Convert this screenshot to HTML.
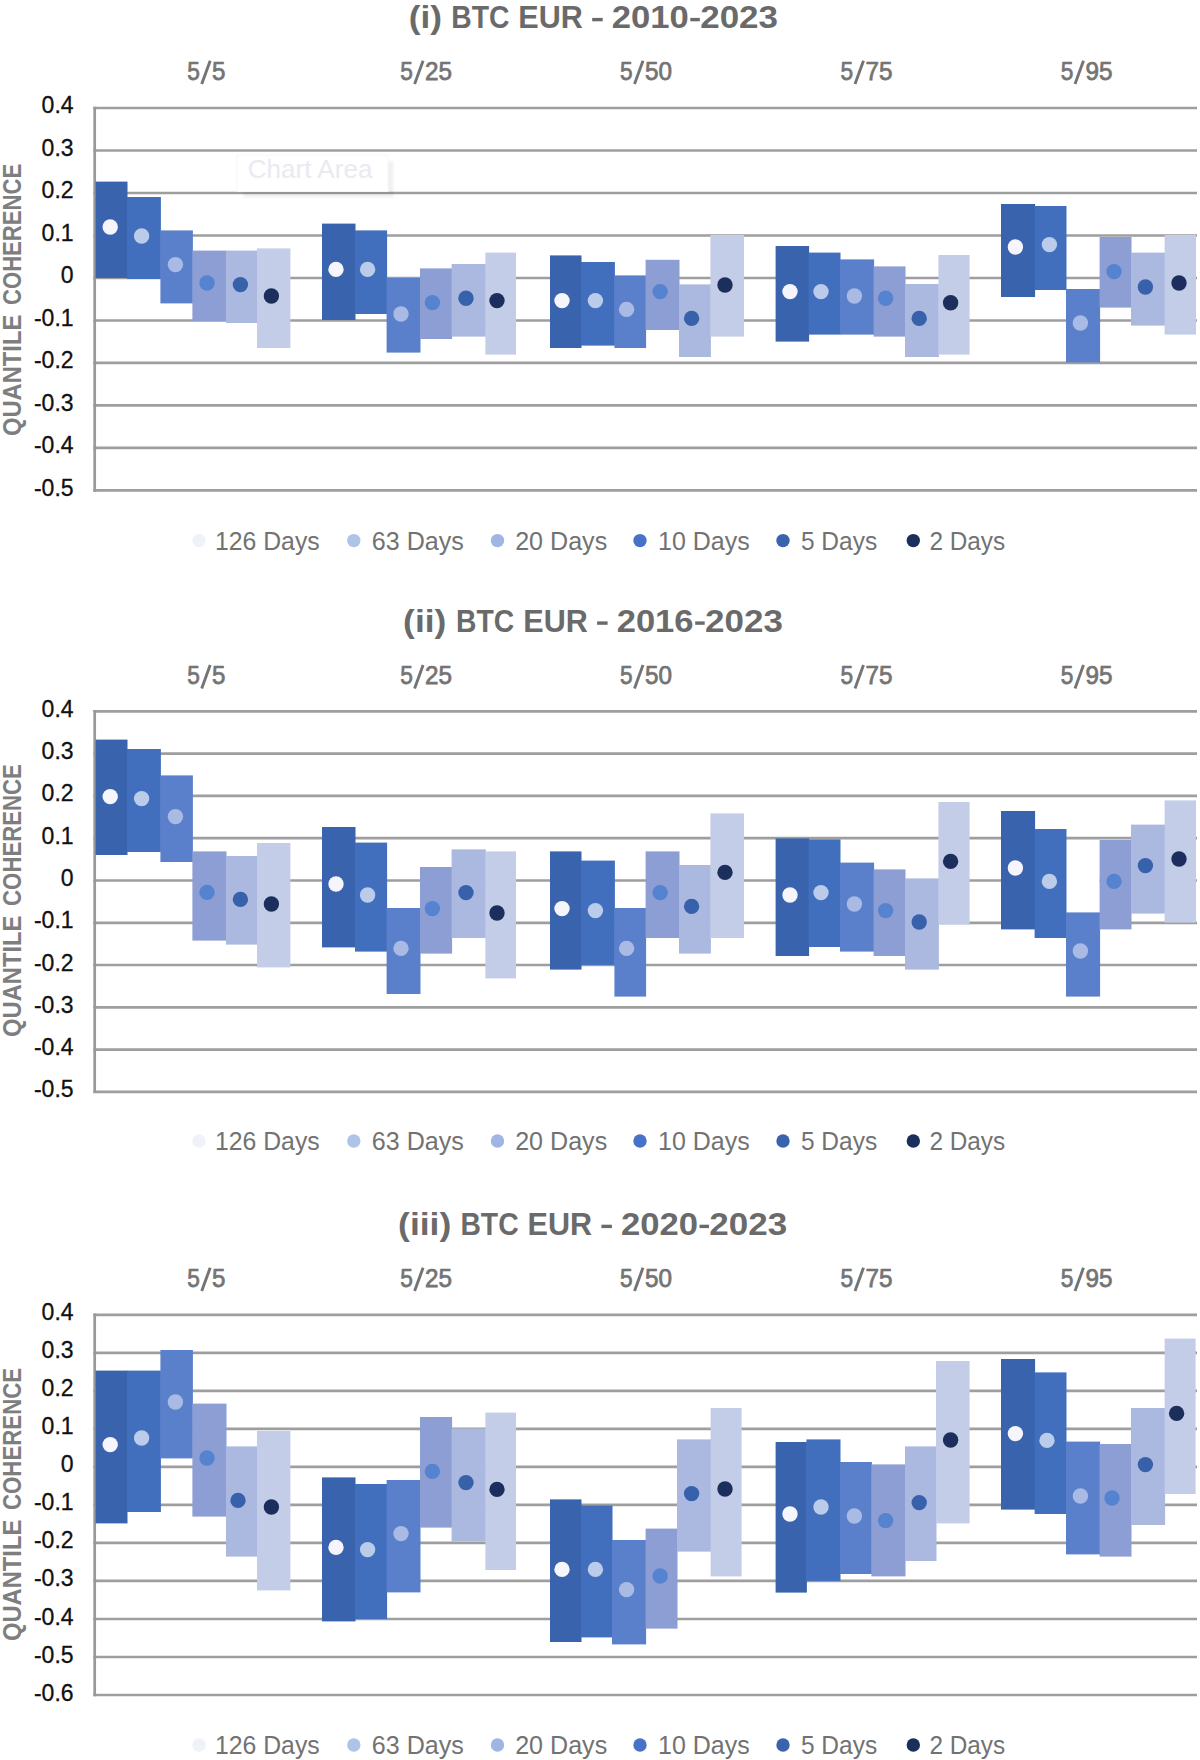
<!DOCTYPE html><html><head><meta charset="utf-8"><title>chart</title><style>html,body{margin:0;padding:0;background:#fff}svg{display:block}text{font-family:"Liberation Sans",sans-serif}</style></head><body>
<svg width="1200" height="1760" viewBox="0 0 1200 1760">
<defs><filter id="b1" x="-10%" y="-20%" width="120%" height="140%"><feGaussianBlur stdDeviation="1"/></filter></defs>
<rect width="1200" height="1760" fill="#fff"/>
<g>
<g>
<line x1="93.4" y1="108.0" x2="1197" y2="108.0" stroke="#9E9E9E" stroke-width="2.7"/>
<line x1="93.4" y1="150.5" x2="1197" y2="150.5" stroke="#9E9E9E" stroke-width="2.7"/>
<line x1="93.4" y1="193.0" x2="1197" y2="193.0" stroke="#9E9E9E" stroke-width="2.7"/>
<line x1="93.4" y1="235.5" x2="1197" y2="235.5" stroke="#9E9E9E" stroke-width="2.7"/>
<line x1="93.4" y1="278.0" x2="1197" y2="278.0" stroke="#9E9E9E" stroke-width="2.7"/>
<line x1="93.4" y1="320.5" x2="1197" y2="320.5" stroke="#9E9E9E" stroke-width="2.7"/>
<line x1="93.4" y1="362.9" x2="1197" y2="362.9" stroke="#9E9E9E" stroke-width="2.7"/>
<line x1="93.4" y1="405.4" x2="1197" y2="405.4" stroke="#9E9E9E" stroke-width="2.7"/>
<line x1="93.4" y1="447.9" x2="1197" y2="447.9" stroke="#9E9E9E" stroke-width="2.7"/>
<line x1="93.4" y1="490.4" x2="1197" y2="490.4" stroke="#9E9E9E" stroke-width="2.7"/>
<line x1="94.7" y1="106.7" x2="94.7" y2="491.7" stroke="#999" stroke-width="2.7"/>
<g><rect x="243" y="161" width="150.5" height="36.5" fill="#000" opacity="0.05" filter="url(#b1)"/><rect x="237" y="155" width="151" height="36.5" fill="#fff" stroke="#f7f7f7" stroke-width="1"/><text x="247.69" y="178" font-size="25.8" fill="#EAEAF1" textLength="124.81" lengthAdjust="spacingAndGlyphs">Chart Area</text></g>

<rect x="95.6" y="181.6" width="31.9" height="96.4" fill="#3A63AE"/>
<rect x="127.0" y="197.0" width="33.9" height="82.0" fill="#416EBD"/>
<rect x="160.4" y="230.4" width="32.5" height="73.0" fill="#5B80CB"/>
<rect x="192.4" y="250.6" width="34.1" height="70.4" fill="#8C9ED3"/>
<rect x="226.0" y="250.6" width="31.5" height="72.4" fill="#ABB8DF"/>
<rect x="257.0" y="248.4" width="33.4" height="99.6" fill="#C4CDE8"/>
<rect x="322.0" y="223.6" width="33.5" height="96.4" fill="#3A63AE"/>
<rect x="355.0" y="230.4" width="32.1" height="83.6" fill="#416EBD"/>
<rect x="386.6" y="278.0" width="33.9" height="74.6" fill="#5B80CB"/>
<rect x="420.0" y="268.4" width="32.1" height="70.6" fill="#8C9ED3"/>
<rect x="451.6" y="264.0" width="34.3" height="72.6" fill="#ABB8DF"/>
<rect x="485.4" y="252.6" width="30.6" height="102.0" fill="#C4CDE8"/>
<rect x="550.0" y="255.4" width="31.5" height="92.6" fill="#3A63AE"/>
<rect x="581.0" y="262.0" width="33.9" height="83.6" fill="#416EBD"/>
<rect x="614.4" y="275.4" width="31.7" height="72.6" fill="#5B80CB"/>
<rect x="645.6" y="259.8" width="33.9" height="70.2" fill="#8C9ED3"/>
<rect x="679.0" y="284.4" width="31.9" height="72.6" fill="#ABB8DF"/>
<rect x="710.4" y="235.0" width="33.6" height="101.6" fill="#C4CDE8"/>
<rect x="775.6" y="246.0" width="33.5" height="95.6" fill="#3A63AE"/>
<rect x="808.6" y="252.6" width="31.9" height="82.0" fill="#416EBD"/>
<rect x="840.0" y="259.4" width="34.1" height="75.2" fill="#5B80CB"/>
<rect x="873.6" y="266.4" width="31.9" height="70.2" fill="#8C9ED3"/>
<rect x="905.0" y="284.0" width="33.9" height="73.0" fill="#ABB8DF"/>
<rect x="938.4" y="255.0" width="31.2" height="99.6" fill="#C4CDE8"/>
<rect x="1001.0" y="204.0" width="34.1" height="93.0" fill="#3A63AE"/>
<rect x="1034.6" y="206.0" width="31.9" height="84.0" fill="#416EBD"/>
<rect x="1066.0" y="289.0" width="34.1" height="73.4" fill="#5B80CB"/>
<rect x="1099.6" y="237.0" width="31.9" height="70.6" fill="#8C9ED3"/>
<rect x="1131.0" y="252.6" width="34.1" height="73.0" fill="#ABB8DF"/>
<rect x="1164.6" y="235.0" width="31.4" height="99.6" fill="#C4CDE8"/>
<circle cx="110.2" cy="227.0" r="7.7" fill="#F5F5FB"/>
<circle cx="141.6" cy="236.0" r="7.7" fill="#BBCBEA"/>
<circle cx="175.4" cy="264.6" r="7.7" fill="#A9BBE5"/>
<circle cx="207.0" cy="283.0" r="7.7" fill="#5583D0"/>
<circle cx="240.4" cy="284.6" r="7.7" fill="#3861AB"/>
<circle cx="271.4" cy="296.0" r="7.7" fill="#1B2E5C"/>
<circle cx="336.0" cy="269.4" r="7.7" fill="#F5F5FB"/>
<circle cx="367.6" cy="269.4" r="7.7" fill="#BBCBEA"/>
<circle cx="401.0" cy="314.0" r="7.7" fill="#A9BBE5"/>
<circle cx="432.4" cy="302.6" r="7.7" fill="#5583D0"/>
<circle cx="466.0" cy="298.2" r="7.7" fill="#3861AB"/>
<circle cx="497.0" cy="300.6" r="7.7" fill="#1B2E5C"/>
<circle cx="562.0" cy="300.6" r="7.7" fill="#F5F5FB"/>
<circle cx="595.4" cy="300.6" r="7.7" fill="#BBCBEA"/>
<circle cx="626.6" cy="309.4" r="7.7" fill="#A9BBE5"/>
<circle cx="660.2" cy="291.6" r="7.7" fill="#5583D0"/>
<circle cx="691.6" cy="318.4" r="7.7" fill="#3861AB"/>
<circle cx="725.0" cy="285.0" r="7.7" fill="#1B2E5C"/>
<circle cx="790.0" cy="291.6" r="7.7" fill="#F5F5FB"/>
<circle cx="821.0" cy="291.6" r="7.7" fill="#BBCBEA"/>
<circle cx="854.4" cy="296.0" r="7.7" fill="#A9BBE5"/>
<circle cx="885.6" cy="298.2" r="7.7" fill="#5583D0"/>
<circle cx="919.2" cy="318.4" r="7.7" fill="#3861AB"/>
<circle cx="950.6" cy="302.8" r="7.7" fill="#1B2E5C"/>
<circle cx="1015.4" cy="247.0" r="7.7" fill="#F5F5FB"/>
<circle cx="1049.4" cy="244.6" r="7.7" fill="#BBCBEA"/>
<circle cx="1080.4" cy="323.0" r="7.7" fill="#A9BBE5"/>
<circle cx="1114.0" cy="271.6" r="7.7" fill="#5583D0"/>
<circle cx="1145.4" cy="287.0" r="7.7" fill="#3861AB"/>
<circle cx="1179.0" cy="283.0" r="7.7" fill="#1B2E5C"/>
<text x="408.74" y="28.0" font-size="31.6" font-weight="bold" fill="#6A6A6A" textLength="33.26" lengthAdjust="spacingAndGlyphs">(i)</text>
<text x="451.21" y="28.0" font-size="31.6" font-weight="bold" fill="#6A6A6A" textLength="58.17" lengthAdjust="spacingAndGlyphs">BTC</text>
<text x="518.36" y="28.0" font-size="31.6" font-weight="bold" fill="#6A6A6A" textLength="64.52" lengthAdjust="spacingAndGlyphs">EUR</text>
<rect x="592.2" y="17.9" width="10.5" height="3.4" fill="#6A6A6A"/>
<text x="611.80" y="28.0" font-size="31.6" font-weight="bold" fill="#6A6A6A" textLength="77.02" lengthAdjust="spacingAndGlyphs">2010</text>
<rect x="690.3" y="17.9" width="9.5" height="3.4" fill="#6A6A6A"/>
<text x="700.19" y="28.0" font-size="31.6" font-weight="bold" fill="#6A6A6A" textLength="77.78" lengthAdjust="spacingAndGlyphs">2023</text>
<text x="187.3" y="79.7" font-size="25" fill="#747474" stroke="#747474" stroke-width="0.75" lengthAdjust="spacingAndGlyphs" textLength="12.6">5</text>
<line x1="201.7" y1="84.0" x2="210.2" y2="60.7" stroke="#747474" stroke-width="2.9"/>
<text x="212.1" y="79.7" font-size="25" fill="#747474" stroke="#747474" stroke-width="0.75" lengthAdjust="spacingAndGlyphs" textLength="13.4">5</text>
<text x="400.2" y="79.7" font-size="25" fill="#747474" stroke="#747474" stroke-width="0.75" lengthAdjust="spacingAndGlyphs" textLength="12.6">5</text>
<line x1="414.6" y1="84.0" x2="423.1" y2="60.7" stroke="#747474" stroke-width="2.9"/>
<text x="425.0" y="79.7" font-size="25" fill="#747474" stroke="#747474" stroke-width="0.75" lengthAdjust="spacingAndGlyphs" textLength="27.0">25</text>
<text x="620.1" y="79.7" font-size="25" fill="#747474" stroke="#747474" stroke-width="0.75" lengthAdjust="spacingAndGlyphs" textLength="12.6">5</text>
<line x1="634.5" y1="84.0" x2="643.0" y2="60.7" stroke="#747474" stroke-width="2.9"/>
<text x="644.9" y="79.7" font-size="25" fill="#747474" stroke="#747474" stroke-width="0.75" lengthAdjust="spacingAndGlyphs" textLength="27.0">50</text>
<text x="840.6" y="79.7" font-size="25" fill="#747474" stroke="#747474" stroke-width="0.75" lengthAdjust="spacingAndGlyphs" textLength="12.6">5</text>
<line x1="855.0" y1="84.0" x2="863.5" y2="60.7" stroke="#747474" stroke-width="2.9"/>
<text x="865.4" y="79.7" font-size="25" fill="#747474" stroke="#747474" stroke-width="0.75" lengthAdjust="spacingAndGlyphs" textLength="27.0">75</text>
<text x="1060.7" y="79.7" font-size="25" fill="#747474" stroke="#747474" stroke-width="0.75" lengthAdjust="spacingAndGlyphs" textLength="12.6">5</text>
<line x1="1075.0" y1="84.0" x2="1083.5" y2="60.7" stroke="#747474" stroke-width="2.9"/>
<text x="1085.5" y="79.7" font-size="25" fill="#747474" stroke="#747474" stroke-width="0.75" lengthAdjust="spacingAndGlyphs" textLength="27.0">95</text>
<text x="73.6" y="113.4" font-size="23" fill="#111" stroke="#111" stroke-width="0.3" text-anchor="end">0.4</text>
<text x="73.6" y="155.9" font-size="23" fill="#111" stroke="#111" stroke-width="0.3" text-anchor="end">0.3</text>
<text x="73.6" y="198.4" font-size="23" fill="#111" stroke="#111" stroke-width="0.3" text-anchor="end">0.2</text>
<text x="73.6" y="240.9" font-size="23" fill="#111" stroke="#111" stroke-width="0.3" text-anchor="end">0.1</text>
<text x="73.6" y="283.4" font-size="23" fill="#111" stroke="#111" stroke-width="0.3" text-anchor="end">0</text>
<text x="73.6" y="325.9" font-size="23" fill="#111" stroke="#111" stroke-width="0.3" text-anchor="end">-0.1</text>
<text x="73.6" y="368.3" font-size="23" fill="#111" stroke="#111" stroke-width="0.3" text-anchor="end">-0.2</text>
<text x="73.6" y="410.8" font-size="23" fill="#111" stroke="#111" stroke-width="0.3" text-anchor="end">-0.3</text>
<text x="73.6" y="453.3" font-size="23" fill="#111" stroke="#111" stroke-width="0.3" text-anchor="end">-0.4</text>
<text x="73.6" y="495.8" font-size="23" fill="#111" stroke="#111" stroke-width="0.3" text-anchor="end">-0.5</text>
<text transform="translate(21.4,435.1) rotate(-90)" x="-0.97" y="0" font-size="26.5" font-weight="bold" fill="#7E7E7E" textLength="121.30" lengthAdjust="spacingAndGlyphs">QUANTILE</text>
<text transform="translate(21.4,304.1) rotate(-90)" x="-0.91" y="0" font-size="26.5" font-weight="bold" fill="#7E7E7E" textLength="141.27" lengthAdjust="spacingAndGlyphs">COHERENCE</text>
<circle cx="199" cy="540.6" r="6.7" fill="#F0F2F9"/>
<text x="215.01" y="549.9" font-size="26" fill="#727272" textLength="104.68" lengthAdjust="spacingAndGlyphs">126 Days</text>
<circle cx="353.8" cy="540.6" r="6.7" fill="#AEC3E8"/>
<text x="371.83" y="549.9" font-size="26" fill="#727272" textLength="92.08" lengthAdjust="spacingAndGlyphs">63 Days</text>
<circle cx="497.5" cy="540.6" r="6.7" fill="#9FB5E4"/>
<text x="515.14" y="549.9" font-size="26" fill="#727272" textLength="92.07" lengthAdjust="spacingAndGlyphs">20 Days</text>
<circle cx="640" cy="540.6" r="6.7" fill="#4673C7"/>
<text x="658.00" y="549.9" font-size="26" fill="#727272" textLength="91.71" lengthAdjust="spacingAndGlyphs">10 Days</text>
<circle cx="783" cy="540.6" r="6.7" fill="#3A63AE"/>
<text x="800.92" y="549.9" font-size="26" fill="#727272" textLength="76.27" lengthAdjust="spacingAndGlyphs">5 Days</text>
<circle cx="913.3" cy="540.6" r="6.7" fill="#1B2E5C"/>
<text x="929.38" y="549.9" font-size="26" fill="#727272" textLength="75.81" lengthAdjust="spacingAndGlyphs">2 Days</text>
</g>
<g>
<line x1="93.4" y1="711.4" x2="1197" y2="711.4" stroke="#9E9E9E" stroke-width="2.7"/>
<line x1="93.4" y1="753.7" x2="1197" y2="753.7" stroke="#9E9E9E" stroke-width="2.7"/>
<line x1="93.4" y1="795.9" x2="1197" y2="795.9" stroke="#9E9E9E" stroke-width="2.7"/>
<line x1="93.4" y1="838.2" x2="1197" y2="838.2" stroke="#9E9E9E" stroke-width="2.7"/>
<line x1="93.4" y1="880.5" x2="1197" y2="880.5" stroke="#9E9E9E" stroke-width="2.7"/>
<line x1="93.4" y1="922.8" x2="1197" y2="922.8" stroke="#9E9E9E" stroke-width="2.7"/>
<line x1="93.4" y1="965.0" x2="1197" y2="965.0" stroke="#9E9E9E" stroke-width="2.7"/>
<line x1="93.4" y1="1007.3" x2="1197" y2="1007.3" stroke="#9E9E9E" stroke-width="2.7"/>
<line x1="93.4" y1="1049.6" x2="1197" y2="1049.6" stroke="#9E9E9E" stroke-width="2.7"/>
<line x1="93.4" y1="1091.8" x2="1197" y2="1091.8" stroke="#9E9E9E" stroke-width="2.7"/>
<line x1="94.7" y1="710.1" x2="94.7" y2="1093.1" stroke="#999" stroke-width="2.7"/>
<rect x="1066" y="842" width="33.6" height="71" fill="#fff"/>
<rect x="95.6" y="739.6" width="31.9" height="115.4" fill="#3A63AE"/>
<rect x="127.0" y="749.0" width="33.9" height="103.0" fill="#416EBD"/>
<rect x="160.4" y="775.4" width="32.5" height="86.6" fill="#5B80CB"/>
<rect x="192.4" y="851.4" width="34.1" height="89.2" fill="#8C9ED3"/>
<rect x="226.0" y="856.0" width="31.5" height="88.6" fill="#ABB8DF"/>
<rect x="257.0" y="843.0" width="33.4" height="124.4" fill="#C4CDE8"/>
<rect x="322.0" y="827.0" width="33.5" height="120.4" fill="#3A63AE"/>
<rect x="355.0" y="842.6" width="32.1" height="109.0" fill="#416EBD"/>
<rect x="386.6" y="908.0" width="33.9" height="86.0" fill="#5B80CB"/>
<rect x="420.0" y="867.0" width="32.1" height="86.6" fill="#8C9ED3"/>
<rect x="451.6" y="849.4" width="34.3" height="88.6" fill="#ABB8DF"/>
<rect x="485.4" y="851.4" width="30.6" height="127.0" fill="#C4CDE8"/>
<rect x="550.0" y="851.4" width="31.5" height="118.2" fill="#3A63AE"/>
<rect x="581.0" y="860.6" width="33.9" height="104.4" fill="#416EBD"/>
<rect x="614.4" y="908.0" width="31.7" height="88.6" fill="#5B80CB"/>
<rect x="645.6" y="851.4" width="33.9" height="86.6" fill="#8C9ED3"/>
<rect x="679.0" y="865.0" width="31.9" height="88.6" fill="#ABB8DF"/>
<rect x="710.4" y="813.4" width="33.6" height="124.6" fill="#C4CDE8"/>
<rect x="775.6" y="838.4" width="33.5" height="117.6" fill="#3A63AE"/>
<rect x="808.6" y="839.4" width="31.9" height="107.6" fill="#416EBD"/>
<rect x="840.0" y="862.6" width="34.1" height="89.0" fill="#5B80CB"/>
<rect x="873.6" y="869.4" width="31.9" height="86.6" fill="#8C9ED3"/>
<rect x="905.0" y="878.4" width="33.9" height="91.2" fill="#ABB8DF"/>
<rect x="938.4" y="802.0" width="31.2" height="122.6" fill="#C4CDE8"/>
<rect x="1001.0" y="811.0" width="34.1" height="118.4" fill="#3A63AE"/>
<rect x="1034.6" y="829.0" width="31.9" height="109.0" fill="#416EBD"/>
<rect x="1066.0" y="912.4" width="34.1" height="84.2" fill="#5B80CB"/>
<rect x="1099.6" y="840.0" width="31.9" height="89.4" fill="#8C9ED3"/>
<rect x="1131.0" y="824.6" width="34.1" height="89.0" fill="#ABB8DF"/>
<rect x="1164.6" y="800.4" width="31.4" height="122.2" fill="#C4CDE8"/>
<circle cx="110.2" cy="796.6" r="7.7" fill="#F5F5FB"/>
<circle cx="141.6" cy="798.6" r="7.7" fill="#BBCBEA"/>
<circle cx="175.4" cy="816.6" r="7.7" fill="#A9BBE5"/>
<circle cx="207.0" cy="892.4" r="7.7" fill="#5583D0"/>
<circle cx="240.4" cy="899.4" r="7.7" fill="#3861AB"/>
<circle cx="271.4" cy="904.0" r="7.7" fill="#1B2E5C"/>
<circle cx="336.0" cy="884.0" r="7.7" fill="#F5F5FB"/>
<circle cx="367.6" cy="895.0" r="7.7" fill="#BBCBEA"/>
<circle cx="401.0" cy="948.4" r="7.7" fill="#A9BBE5"/>
<circle cx="432.4" cy="908.6" r="7.7" fill="#5583D0"/>
<circle cx="466.0" cy="892.6" r="7.7" fill="#3861AB"/>
<circle cx="497.0" cy="913.0" r="7.7" fill="#1B2E5C"/>
<circle cx="562.0" cy="908.6" r="7.7" fill="#F5F5FB"/>
<circle cx="595.4" cy="910.6" r="7.7" fill="#BBCBEA"/>
<circle cx="626.6" cy="948.4" r="7.7" fill="#A9BBE5"/>
<circle cx="660.2" cy="892.6" r="7.7" fill="#5583D0"/>
<circle cx="691.6" cy="906.4" r="7.7" fill="#3861AB"/>
<circle cx="725.0" cy="872.4" r="7.7" fill="#1B2E5C"/>
<circle cx="790.0" cy="895.0" r="7.7" fill="#F5F5FB"/>
<circle cx="821.0" cy="892.6" r="7.7" fill="#BBCBEA"/>
<circle cx="854.4" cy="904.0" r="7.7" fill="#A9BBE5"/>
<circle cx="885.6" cy="910.6" r="7.7" fill="#5583D0"/>
<circle cx="919.2" cy="922.0" r="7.7" fill="#3861AB"/>
<circle cx="950.6" cy="861.4" r="7.7" fill="#1B2E5C"/>
<circle cx="1015.4" cy="868.0" r="7.7" fill="#F5F5FB"/>
<circle cx="1049.4" cy="881.4" r="7.7" fill="#BBCBEA"/>
<circle cx="1080.4" cy="951.0" r="7.7" fill="#A9BBE5"/>
<circle cx="1114.0" cy="881.4" r="7.7" fill="#5583D0"/>
<circle cx="1145.4" cy="865.6" r="7.7" fill="#3861AB"/>
<circle cx="1179.0" cy="859.0" r="7.7" fill="#1B2E5C"/>
<text x="403.14" y="631.5" font-size="31.6" font-weight="bold" fill="#6A6A6A" textLength="43.22" lengthAdjust="spacingAndGlyphs">(ii)</text>
<text x="456.11" y="631.5" font-size="31.6" font-weight="bold" fill="#6A6A6A" textLength="58.17" lengthAdjust="spacingAndGlyphs">BTC</text>
<text x="523.26" y="631.5" font-size="31.6" font-weight="bold" fill="#6A6A6A" textLength="64.52" lengthAdjust="spacingAndGlyphs">EUR</text>
<rect x="597.1" y="621.4" width="10.5" height="3.4" fill="#6A6A6A"/>
<text x="616.70" y="631.5" font-size="31.6" font-weight="bold" fill="#6A6A6A" textLength="76.85" lengthAdjust="spacingAndGlyphs">2016</text>
<rect x="695.2" y="621.4" width="9.5" height="3.4" fill="#6A6A6A"/>
<text x="705.09" y="631.5" font-size="31.6" font-weight="bold" fill="#6A6A6A" textLength="77.78" lengthAdjust="spacingAndGlyphs">2023</text>
<text x="187.3" y="684.1" font-size="25" fill="#747474" stroke="#747474" stroke-width="0.75" lengthAdjust="spacingAndGlyphs" textLength="12.6">5</text>
<line x1="201.7" y1="688.4" x2="210.2" y2="665.1" stroke="#747474" stroke-width="2.9"/>
<text x="212.1" y="684.1" font-size="25" fill="#747474" stroke="#747474" stroke-width="0.75" lengthAdjust="spacingAndGlyphs" textLength="13.4">5</text>
<text x="400.2" y="684.1" font-size="25" fill="#747474" stroke="#747474" stroke-width="0.75" lengthAdjust="spacingAndGlyphs" textLength="12.6">5</text>
<line x1="414.6" y1="688.4" x2="423.1" y2="665.1" stroke="#747474" stroke-width="2.9"/>
<text x="425.0" y="684.1" font-size="25" fill="#747474" stroke="#747474" stroke-width="0.75" lengthAdjust="spacingAndGlyphs" textLength="27.0">25</text>
<text x="620.1" y="684.1" font-size="25" fill="#747474" stroke="#747474" stroke-width="0.75" lengthAdjust="spacingAndGlyphs" textLength="12.6">5</text>
<line x1="634.5" y1="688.4" x2="643.0" y2="665.1" stroke="#747474" stroke-width="2.9"/>
<text x="644.9" y="684.1" font-size="25" fill="#747474" stroke="#747474" stroke-width="0.75" lengthAdjust="spacingAndGlyphs" textLength="27.0">50</text>
<text x="840.6" y="684.1" font-size="25" fill="#747474" stroke="#747474" stroke-width="0.75" lengthAdjust="spacingAndGlyphs" textLength="12.6">5</text>
<line x1="855.0" y1="688.4" x2="863.5" y2="665.1" stroke="#747474" stroke-width="2.9"/>
<text x="865.4" y="684.1" font-size="25" fill="#747474" stroke="#747474" stroke-width="0.75" lengthAdjust="spacingAndGlyphs" textLength="27.0">75</text>
<text x="1060.7" y="684.1" font-size="25" fill="#747474" stroke="#747474" stroke-width="0.75" lengthAdjust="spacingAndGlyphs" textLength="12.6">5</text>
<line x1="1075.0" y1="688.4" x2="1083.5" y2="665.1" stroke="#747474" stroke-width="2.9"/>
<text x="1085.5" y="684.1" font-size="25" fill="#747474" stroke="#747474" stroke-width="0.75" lengthAdjust="spacingAndGlyphs" textLength="27.0">95</text>
<text x="73.6" y="716.9" font-size="23" fill="#111" stroke="#111" stroke-width="0.3" text-anchor="end">0.4</text>
<text x="73.6" y="759.2" font-size="23" fill="#111" stroke="#111" stroke-width="0.3" text-anchor="end">0.3</text>
<text x="73.6" y="801.4" font-size="23" fill="#111" stroke="#111" stroke-width="0.3" text-anchor="end">0.2</text>
<text x="73.6" y="843.7" font-size="23" fill="#111" stroke="#111" stroke-width="0.3" text-anchor="end">0.1</text>
<text x="73.6" y="886.0" font-size="23" fill="#111" stroke="#111" stroke-width="0.3" text-anchor="end">0</text>
<text x="73.6" y="928.2" font-size="23" fill="#111" stroke="#111" stroke-width="0.3" text-anchor="end">-0.1</text>
<text x="73.6" y="970.5" font-size="23" fill="#111" stroke="#111" stroke-width="0.3" text-anchor="end">-0.2</text>
<text x="73.6" y="1012.8" font-size="23" fill="#111" stroke="#111" stroke-width="0.3" text-anchor="end">-0.3</text>
<text x="73.6" y="1055.1" font-size="23" fill="#111" stroke="#111" stroke-width="0.3" text-anchor="end">-0.4</text>
<text x="73.6" y="1097.3" font-size="23" fill="#111" stroke="#111" stroke-width="0.3" text-anchor="end">-0.5</text>
<text transform="translate(21.4,1036.0) rotate(-90)" x="-0.97" y="0" font-size="26.5" font-weight="bold" fill="#7E7E7E" textLength="121.30" lengthAdjust="spacingAndGlyphs">QUANTILE</text>
<text transform="translate(21.4,905.0) rotate(-90)" x="-0.91" y="0" font-size="26.5" font-weight="bold" fill="#7E7E7E" textLength="141.78" lengthAdjust="spacingAndGlyphs">COHERENCE</text>
<circle cx="199" cy="1141" r="6.7" fill="#F0F2F9"/>
<text x="215.01" y="1150.2" font-size="26" fill="#727272" textLength="104.68" lengthAdjust="spacingAndGlyphs">126 Days</text>
<circle cx="353.8" cy="1141" r="6.7" fill="#AEC3E8"/>
<text x="371.83" y="1150.2" font-size="26" fill="#727272" textLength="92.08" lengthAdjust="spacingAndGlyphs">63 Days</text>
<circle cx="497.5" cy="1141" r="6.7" fill="#9FB5E4"/>
<text x="515.14" y="1150.2" font-size="26" fill="#727272" textLength="92.07" lengthAdjust="spacingAndGlyphs">20 Days</text>
<circle cx="640" cy="1141" r="6.7" fill="#4673C7"/>
<text x="658.00" y="1150.2" font-size="26" fill="#727272" textLength="91.71" lengthAdjust="spacingAndGlyphs">10 Days</text>
<circle cx="783" cy="1141" r="6.7" fill="#3A63AE"/>
<text x="800.92" y="1150.2" font-size="26" fill="#727272" textLength="76.27" lengthAdjust="spacingAndGlyphs">5 Days</text>
<circle cx="913.3" cy="1141" r="6.7" fill="#1B2E5C"/>
<text x="929.38" y="1150.2" font-size="26" fill="#727272" textLength="75.81" lengthAdjust="spacingAndGlyphs">2 Days</text>
</g>
<g>
<line x1="93.4" y1="1314.8" x2="1197" y2="1314.8" stroke="#9E9E9E" stroke-width="2.7"/>
<line x1="93.4" y1="1352.8" x2="1197" y2="1352.8" stroke="#9E9E9E" stroke-width="2.7"/>
<line x1="93.4" y1="1390.8" x2="1197" y2="1390.8" stroke="#9E9E9E" stroke-width="2.7"/>
<line x1="93.4" y1="1428.9" x2="1197" y2="1428.9" stroke="#9E9E9E" stroke-width="2.7"/>
<line x1="93.4" y1="1466.9" x2="1197" y2="1466.9" stroke="#9E9E9E" stroke-width="2.7"/>
<line x1="93.4" y1="1504.9" x2="1197" y2="1504.9" stroke="#9E9E9E" stroke-width="2.7"/>
<line x1="93.4" y1="1542.9" x2="1197" y2="1542.9" stroke="#9E9E9E" stroke-width="2.7"/>
<line x1="93.4" y1="1580.9" x2="1197" y2="1580.9" stroke="#9E9E9E" stroke-width="2.7"/>
<line x1="93.4" y1="1619.0" x2="1197" y2="1619.0" stroke="#9E9E9E" stroke-width="2.7"/>
<line x1="93.4" y1="1657.0" x2="1197" y2="1657.0" stroke="#9E9E9E" stroke-width="2.7"/>
<line x1="93.4" y1="1695.0" x2="1197" y2="1695.0" stroke="#9E9E9E" stroke-width="2.7"/>
<line x1="94.7" y1="1313.5" x2="94.7" y2="1696.3" stroke="#999" stroke-width="2.7"/>

<rect x="95.6" y="1370.6" width="31.9" height="152.8" fill="#3A63AE"/>
<rect x="127.0" y="1370.6" width="33.9" height="141.4" fill="#416EBD"/>
<rect x="160.4" y="1350.0" width="32.5" height="108.4" fill="#5B80CB"/>
<rect x="192.4" y="1403.6" width="34.1" height="113.0" fill="#8C9ED3"/>
<rect x="226.0" y="1446.4" width="31.5" height="110.2" fill="#ABB8DF"/>
<rect x="257.0" y="1431.0" width="33.4" height="159.4" fill="#C4CDE8"/>
<rect x="322.0" y="1477.4" width="33.5" height="144.0" fill="#3A63AE"/>
<rect x="355.0" y="1484.0" width="32.1" height="135.0" fill="#416EBD"/>
<rect x="386.6" y="1480.0" width="33.9" height="112.4" fill="#5B80CB"/>
<rect x="420.0" y="1417.0" width="32.1" height="110.6" fill="#8C9ED3"/>
<rect x="451.6" y="1428.4" width="34.3" height="113.0" fill="#ABB8DF"/>
<rect x="485.4" y="1412.6" width="30.6" height="157.4" fill="#C4CDE8"/>
<rect x="550.0" y="1499.4" width="31.5" height="142.6" fill="#3A63AE"/>
<rect x="581.0" y="1505.6" width="31.5" height="131.8" fill="#416EBD"/>
<rect x="612.0" y="1540.0" width="34.1" height="104.4" fill="#5B80CB"/>
<rect x="645.6" y="1528.6" width="31.9" height="100.0" fill="#8C9ED3"/>
<rect x="677.0" y="1439.4" width="34.1" height="112.2" fill="#ABB8DF"/>
<rect x="710.6" y="1408.0" width="31.0" height="168.4" fill="#C4CDE8"/>
<rect x="775.6" y="1442.0" width="31.3" height="150.6" fill="#3A63AE"/>
<rect x="806.4" y="1439.4" width="34.1" height="141.6" fill="#416EBD"/>
<rect x="840.0" y="1462.0" width="31.9" height="112.0" fill="#5B80CB"/>
<rect x="871.4" y="1464.4" width="34.1" height="112.0" fill="#8C9ED3"/>
<rect x="905.0" y="1446.4" width="31.5" height="114.6" fill="#ABB8DF"/>
<rect x="936.0" y="1361.0" width="33.6" height="162.4" fill="#C4CDE8"/>
<rect x="1001.0" y="1359.0" width="34.1" height="150.6" fill="#3A63AE"/>
<rect x="1034.6" y="1372.4" width="31.9" height="141.6" fill="#416EBD"/>
<rect x="1066.0" y="1441.6" width="34.1" height="112.8" fill="#5B80CB"/>
<rect x="1099.6" y="1444.0" width="31.9" height="112.6" fill="#8C9ED3"/>
<rect x="1131.0" y="1408.0" width="34.1" height="117.0" fill="#ABB8DF"/>
<rect x="1164.6" y="1338.6" width="31.0" height="155.4" fill="#C4CDE8"/>
<circle cx="110.2" cy="1444.6" r="7.7" fill="#F5F5FB"/>
<circle cx="141.6" cy="1438.0" r="7.7" fill="#BBCBEA"/>
<circle cx="175.4" cy="1402.0" r="7.7" fill="#A9BBE5"/>
<circle cx="207.0" cy="1458.0" r="7.7" fill="#5583D0"/>
<circle cx="238.0" cy="1500.4" r="7.7" fill="#3861AB"/>
<circle cx="271.4" cy="1507.0" r="7.7" fill="#1B2E5C"/>
<circle cx="336.0" cy="1547.4" r="7.7" fill="#F5F5FB"/>
<circle cx="367.6" cy="1549.6" r="7.7" fill="#BBCBEA"/>
<circle cx="401.0" cy="1533.6" r="7.7" fill="#A9BBE5"/>
<circle cx="432.4" cy="1471.4" r="7.7" fill="#5583D0"/>
<circle cx="466.0" cy="1482.6" r="7.7" fill="#3861AB"/>
<circle cx="497.0" cy="1489.4" r="7.7" fill="#1B2E5C"/>
<circle cx="562.0" cy="1569.4" r="7.7" fill="#F5F5FB"/>
<circle cx="595.4" cy="1569.4" r="7.7" fill="#BBCBEA"/>
<circle cx="626.6" cy="1589.6" r="7.7" fill="#A9BBE5"/>
<circle cx="660.2" cy="1576.0" r="7.7" fill="#5583D0"/>
<circle cx="691.6" cy="1493.6" r="7.7" fill="#3861AB"/>
<circle cx="725.0" cy="1489.0" r="7.7" fill="#1B2E5C"/>
<circle cx="790.0" cy="1514.0" r="7.7" fill="#F5F5FB"/>
<circle cx="821.0" cy="1507.0" r="7.7" fill="#BBCBEA"/>
<circle cx="854.4" cy="1516.0" r="7.7" fill="#A9BBE5"/>
<circle cx="885.6" cy="1520.6" r="7.7" fill="#5583D0"/>
<circle cx="919.2" cy="1502.6" r="7.7" fill="#3861AB"/>
<circle cx="950.6" cy="1440.0" r="7.7" fill="#1B2E5C"/>
<circle cx="1015.4" cy="1433.6" r="7.7" fill="#F5F5FB"/>
<circle cx="1047.0" cy="1440.4" r="7.7" fill="#BBCBEA"/>
<circle cx="1080.4" cy="1496.0" r="7.7" fill="#A9BBE5"/>
<circle cx="1112.0" cy="1498.0" r="7.7" fill="#5583D0"/>
<circle cx="1145.4" cy="1464.6" r="7.7" fill="#3861AB"/>
<circle cx="1176.6" cy="1413.4" r="7.7" fill="#1B2E5C"/>
<text x="398.14" y="1234.8" font-size="31.6" font-weight="bold" fill="#6A6A6A" textLength="53.13" lengthAdjust="spacingAndGlyphs">(iii)</text>
<text x="460.41" y="1234.8" font-size="31.6" font-weight="bold" fill="#6A6A6A" textLength="58.17" lengthAdjust="spacingAndGlyphs">BTC</text>
<text x="527.56" y="1234.8" font-size="31.6" font-weight="bold" fill="#6A6A6A" textLength="64.52" lengthAdjust="spacingAndGlyphs">EUR</text>
<rect x="601.4" y="1224.7" width="10.5" height="3.4" fill="#6A6A6A"/>
<text x="621.00" y="1234.8" font-size="31.6" font-weight="bold" fill="#6A6A6A" textLength="77.02" lengthAdjust="spacingAndGlyphs">2020</text>
<rect x="699.5" y="1224.7" width="9.5" height="3.4" fill="#6A6A6A"/>
<text x="709.39" y="1234.8" font-size="31.6" font-weight="bold" fill="#6A6A6A" textLength="77.78" lengthAdjust="spacingAndGlyphs">2023</text>
<text x="187.3" y="1286.7" font-size="25" fill="#747474" stroke="#747474" stroke-width="0.75" lengthAdjust="spacingAndGlyphs" textLength="12.6">5</text>
<line x1="201.7" y1="1291.0" x2="210.2" y2="1267.7" stroke="#747474" stroke-width="2.9"/>
<text x="212.1" y="1286.7" font-size="25" fill="#747474" stroke="#747474" stroke-width="0.75" lengthAdjust="spacingAndGlyphs" textLength="13.4">5</text>
<text x="400.2" y="1286.7" font-size="25" fill="#747474" stroke="#747474" stroke-width="0.75" lengthAdjust="spacingAndGlyphs" textLength="12.6">5</text>
<line x1="414.6" y1="1291.0" x2="423.1" y2="1267.7" stroke="#747474" stroke-width="2.9"/>
<text x="425.0" y="1286.7" font-size="25" fill="#747474" stroke="#747474" stroke-width="0.75" lengthAdjust="spacingAndGlyphs" textLength="27.0">25</text>
<text x="620.1" y="1286.7" font-size="25" fill="#747474" stroke="#747474" stroke-width="0.75" lengthAdjust="spacingAndGlyphs" textLength="12.6">5</text>
<line x1="634.5" y1="1291.0" x2="643.0" y2="1267.7" stroke="#747474" stroke-width="2.9"/>
<text x="644.9" y="1286.7" font-size="25" fill="#747474" stroke="#747474" stroke-width="0.75" lengthAdjust="spacingAndGlyphs" textLength="27.0">50</text>
<text x="840.6" y="1286.7" font-size="25" fill="#747474" stroke="#747474" stroke-width="0.75" lengthAdjust="spacingAndGlyphs" textLength="12.6">5</text>
<line x1="855.0" y1="1291.0" x2="863.5" y2="1267.7" stroke="#747474" stroke-width="2.9"/>
<text x="865.4" y="1286.7" font-size="25" fill="#747474" stroke="#747474" stroke-width="0.75" lengthAdjust="spacingAndGlyphs" textLength="27.0">75</text>
<text x="1060.7" y="1286.7" font-size="25" fill="#747474" stroke="#747474" stroke-width="0.75" lengthAdjust="spacingAndGlyphs" textLength="12.6">5</text>
<line x1="1075.0" y1="1291.0" x2="1083.5" y2="1267.7" stroke="#747474" stroke-width="2.9"/>
<text x="1085.5" y="1286.7" font-size="25" fill="#747474" stroke="#747474" stroke-width="0.75" lengthAdjust="spacingAndGlyphs" textLength="27.0">95</text>
<text x="73.6" y="1320.3" font-size="23" fill="#111" stroke="#111" stroke-width="0.3" text-anchor="end">0.4</text>
<text x="73.6" y="1358.3" font-size="23" fill="#111" stroke="#111" stroke-width="0.3" text-anchor="end">0.3</text>
<text x="73.6" y="1396.3" font-size="23" fill="#111" stroke="#111" stroke-width="0.3" text-anchor="end">0.2</text>
<text x="73.6" y="1434.4" font-size="23" fill="#111" stroke="#111" stroke-width="0.3" text-anchor="end">0.1</text>
<text x="73.6" y="1472.4" font-size="23" fill="#111" stroke="#111" stroke-width="0.3" text-anchor="end">0</text>
<text x="73.6" y="1510.4" font-size="23" fill="#111" stroke="#111" stroke-width="0.3" text-anchor="end">-0.1</text>
<text x="73.6" y="1548.4" font-size="23" fill="#111" stroke="#111" stroke-width="0.3" text-anchor="end">-0.2</text>
<text x="73.6" y="1586.4" font-size="23" fill="#111" stroke="#111" stroke-width="0.3" text-anchor="end">-0.3</text>
<text x="73.6" y="1624.5" font-size="23" fill="#111" stroke="#111" stroke-width="0.3" text-anchor="end">-0.4</text>
<text x="73.6" y="1662.5" font-size="23" fill="#111" stroke="#111" stroke-width="0.3" text-anchor="end">-0.5</text>
<text x="73.6" y="1700.5" font-size="23" fill="#111" stroke="#111" stroke-width="0.3" text-anchor="end">-0.6</text>
<text transform="translate(21.4,1640.1) rotate(-90)" x="-0.97" y="0" font-size="26.5" font-weight="bold" fill="#7E7E7E" textLength="121.30" lengthAdjust="spacingAndGlyphs">QUANTILE</text>
<text transform="translate(21.4,1509.1) rotate(-90)" x="-0.91" y="0" font-size="26.5" font-weight="bold" fill="#7E7E7E" textLength="142.18" lengthAdjust="spacingAndGlyphs">COHERENCE</text>
<circle cx="199" cy="1745" r="6.7" fill="#F0F2F9"/>
<text x="215.01" y="1754.0" font-size="26" fill="#727272" textLength="104.68" lengthAdjust="spacingAndGlyphs">126 Days</text>
<circle cx="353.8" cy="1745" r="6.7" fill="#AEC3E8"/>
<text x="371.83" y="1754.0" font-size="26" fill="#727272" textLength="92.08" lengthAdjust="spacingAndGlyphs">63 Days</text>
<circle cx="497.5" cy="1745" r="6.7" fill="#9FB5E4"/>
<text x="515.14" y="1754.0" font-size="26" fill="#727272" textLength="92.07" lengthAdjust="spacingAndGlyphs">20 Days</text>
<circle cx="640" cy="1745" r="6.7" fill="#4673C7"/>
<text x="658.00" y="1754.0" font-size="26" fill="#727272" textLength="91.71" lengthAdjust="spacingAndGlyphs">10 Days</text>
<circle cx="783" cy="1745" r="6.7" fill="#3A63AE"/>
<text x="800.92" y="1754.0" font-size="26" fill="#727272" textLength="76.27" lengthAdjust="spacingAndGlyphs">5 Days</text>
<circle cx="913.3" cy="1745" r="6.7" fill="#1B2E5C"/>
<text x="929.38" y="1754.0" font-size="26" fill="#727272" textLength="75.81" lengthAdjust="spacingAndGlyphs">2 Days</text>
</g>
</g></svg></body></html>
